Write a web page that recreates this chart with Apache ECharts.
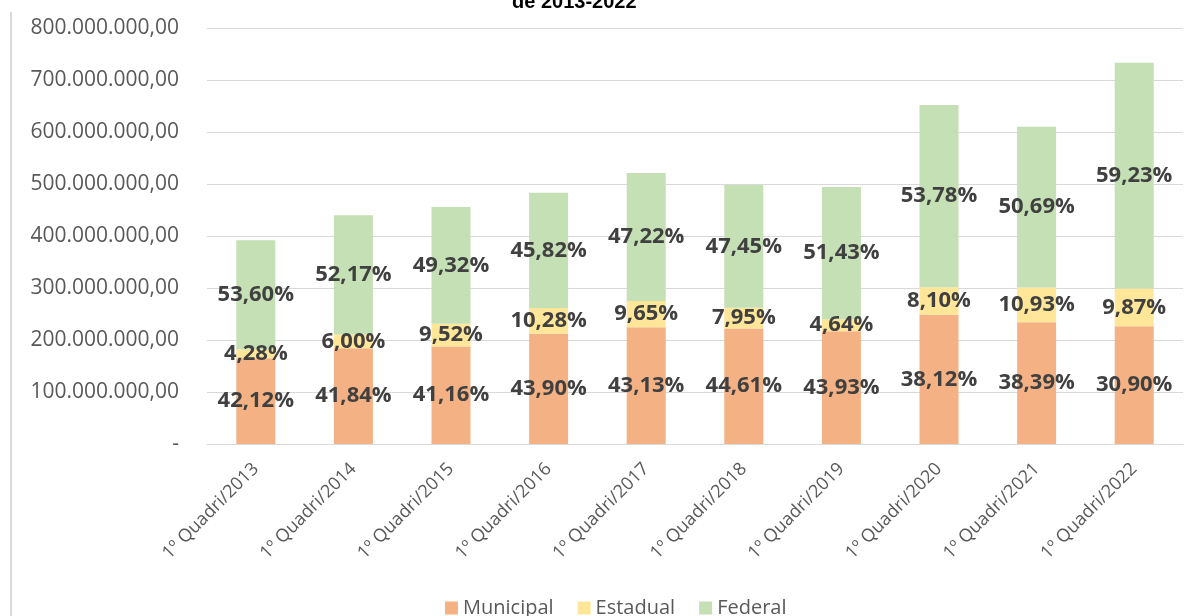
<!DOCTYPE html>
<html>
<head>
<meta charset="utf-8">
<script src="https://cdn.jsdelivr.net/npm/echarts@6/dist/echarts.min.js"></script>
<style>
  html, body { margin: 0; padding: 0; background: #fff; }
  #chart { width: 1192px; height: 616px; }
</style>
</head>
<body>
<div id="chart"></div>
<script>
// Categorias e valores
var categorias = ['1º Quadri/2013', '1º Quadri/2014', '1º Quadri/2015', '1º Quadri/2016', '1º Quadri/2017',
  '1º Quadri/2018', '1º Quadri/2019', '1º Quadri/2020', '1º Quadri/2021', '1º Quadri/2022'];

var municipal = [165100000, 184100000, 187700000, 212000000, 224700000, 222200000, 217000000, 248500000, 234200000, 226500000];
var estadual = [16800000, 26400000, 43400000, 49700000, 50300000, 39600000, 22900000, 52800000, 66700000, 72300000];
var federal = [210100000, 229500000, 224900000, 221300000, 246000000, 236300000, 254100000, 350600000, 309200000, 434200000];

var pctMunicipal = ['42,12%', '41,84%', '41,16%', '43,90%', '43,13%', '44,61%', '43,93%', '38,12%', '38,39%', '30,90%'];
var pctEstadual = ['4,28%', '6,00%', '9,52%', '10,28%', '9,65%', '7,95%', '4,64%', '8,10%', '10,93%', '9,87%'];
var pctFederal = ['53,60%', '52,17%', '49,32%', '45,82%', '47,22%', '47,45%', '51,43%', '53,78%', '50,69%', '59,23%'];

var fonte = '"Open Sans", "Noto Sans", sans-serif';

// formata 800000000 -> 800.000.000,00
function formatarValor(v) {
  if (v === 0) return '-';
  var s = String(Math.round(v));
  return s.replace(/\B(?=(\d{3})+(?!\d))/g, '.') + ',00';
}

function rotulo(lista) {
  return {
    show: true,
    position: 'inside',
    color: '#404040',
    fontFamily: fonte,
    fontWeight: 'bold',
    fontSize: 22,
    formatter: function (p) { return lista[p.dataIndex]; }
  };
}

var myChart = echarts.init(document.getElementById('chart'));

var option = {
  animation: false,
  title: {
    text: 'de 2013-2022',
    left: 507,
    top: -13,
    textStyle: { fontFamily: 'Liberation Sans, Arial, sans-serif', fontWeight: 'bold', fontSize: 20, color: '#000' }
  },
  graphic: [
    {
      type: 'line',
      shape: { x1: 11, y1: 12, x2: 11, y2: 616 },
      style: { stroke: '#d9d9d9', lineWidth: 2 }
    }
  ],
  legend: {
    bottom: -7,
    left: 440,
    itemWidth: 13,
    itemHeight: 13,
    itemGap: 24,
    icon: 'rect',
    textStyle: { fontFamily: fonte, fontSize: 20, color: '#595959' },
    data: ['Municipal', 'Estadual', 'Federal']
  },
  grid: { left: 207, right: 9, top: 28, bottom: 172 },
  xAxis: {
    type: 'category',
    data: categorias,
    axisTick: { show: false },
    axisLine: { lineStyle: { color: '#d9d9d9', width: 1 } },
    axisLabel: { rotate: 45, margin: 22, color: '#595959', fontFamily: fonte, fontSize: 18 }
  },
  yAxis: {
    type: 'value',
    min: 0,
    max: 800000000,
    interval: 100000000,
    axisLine: { show: false },
    axisTick: { show: false },
    splitLine: { lineStyle: { color: '#d9d9d9', width: 1 } },
    axisLabel: { margin: 28, color: '#595959', fontFamily: fonte, fontSize: 21, formatter: formatarValor }
  },
  series: [
    {
      name: 'Municipal', type: 'bar', stack: 'total', barWidth: 39,
      itemStyle: { color: '#F4B183' },
      label: rotulo(pctMunicipal),
      data: municipal
    },
    {
      name: 'Estadual', type: 'bar', stack: 'total', barWidth: 39,
      itemStyle: { color: '#FFE699' },
      label: rotulo(pctEstadual),
      data: estadual
    },
    {
      name: 'Federal', type: 'bar', stack: 'total', barWidth: 39,
      itemStyle: { color: '#C5E0B4' },
      label: rotulo(pctFederal),
      data: federal
    }
  ]
};

myChart.setOption(option);
</script>
</body>
</html>
